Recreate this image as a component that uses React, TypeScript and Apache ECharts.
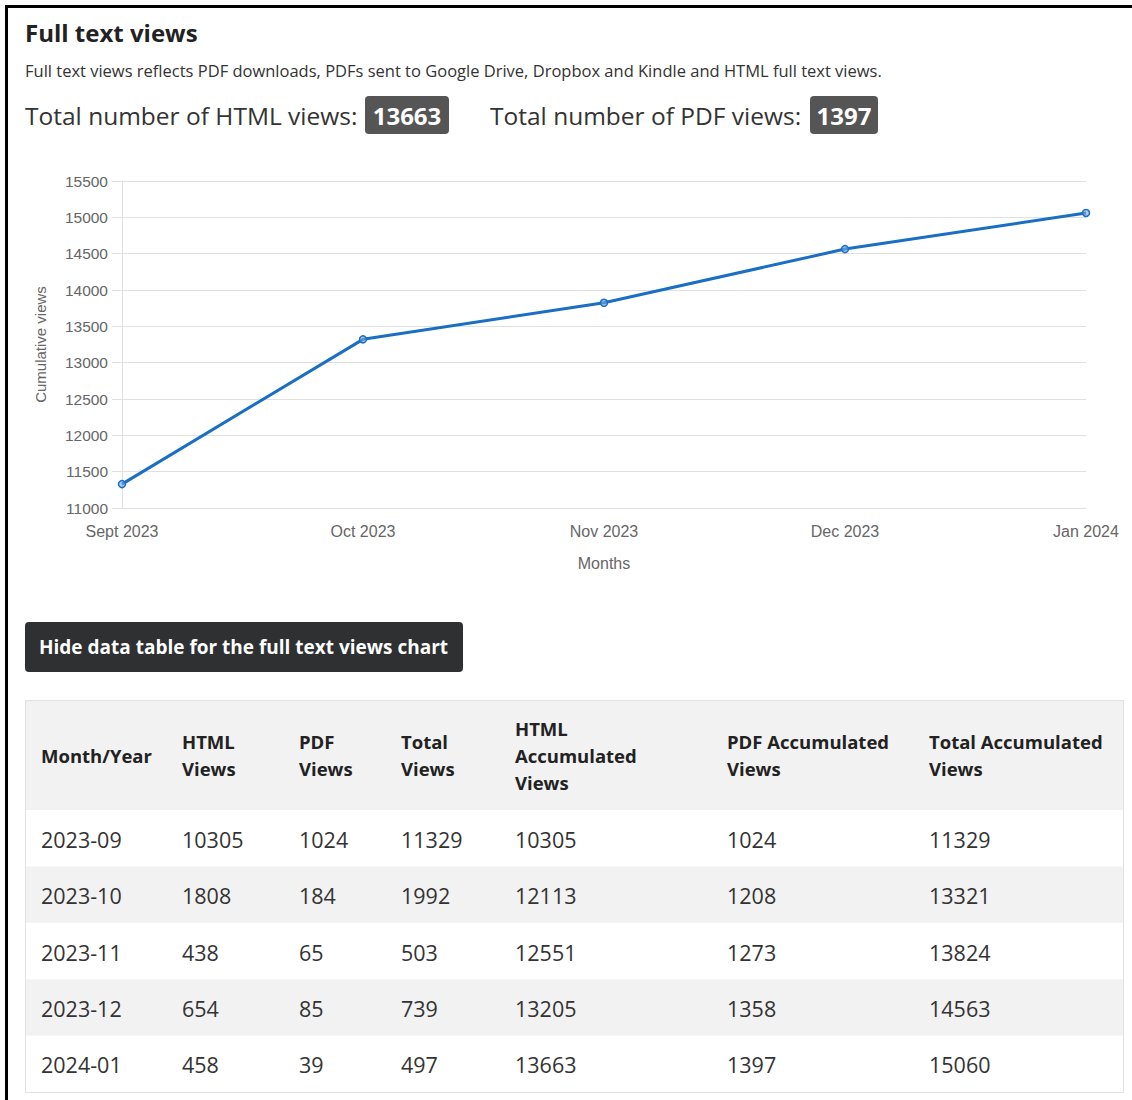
import React, { useEffect, useRef } from "react";
import * as echarts from "echarts";

const chartMonths = ["Sept 2023", "Oct 2023", "Nov 2023", "Dec 2023", "Jan 2024"];
const tableMonths = ["2023-09", "2023-10", "2023-11", "2023-12", "2024-01"];
const htmlViews = [10305, 1808, 438, 654, 458];
const pdfViews = [1024, 184, 65, 85, 39];
const totalViews = [11329, 1992, 503, 739, 497];
const htmlAccumulated = [10305, 12113, 12551, 13205, 13663];
const pdfAccumulated = [1024, 1208, 1273, 1358, 1397];
const totalAccumulated = [11329, 13321, 13824, 14563, 15060];
const totalHtml = 13663;
const totalPdf = 1397;
const tableHeaders = [
  "Month/Year",
  "HTML\nViews",
  "PDF\nViews",
  "Total\nViews",
  "HTML\nAccumulated\nViews",
  "PDF Accumulated\nViews",
  "Total Accumulated\nViews",
];

const PAGE_FONT = "'Open Sans', 'Noto Sans', sans-serif";
const CHART_FONT = "'Liberation Sans', Arial, sans-serif";

export default function App() {
  const ref = useRef<HTMLDivElement>(null);

  useEffect(() => {
    if (!ref.current) return;
    const chart = echarts.init(ref.current, undefined, { renderer: "svg" });

    const colX = [41, 182, 299, 401, 515, 727, 929];
    const rowTop = 810;
    const rowH = 56.4;
    const tableRows = tableMonths.map((m, i) => [
      m,
      htmlViews[i],
      pdfViews[i],
      totalViews[i],
      htmlAccumulated[i],
      pdfAccumulated[i],
      totalAccumulated[i],
    ]);

    const graphics: any[] = [];
    // page frame
    graphics.push({
      type: "line",
      shape: { x1: 5, y1: 6.5, x2: 1132, y2: 6.5 },
      style: { stroke: "#000", lineWidth: 3 },
    });
    graphics.push({
      type: "line",
      shape: { x1: 6.5, y1: 5, x2: 6.5, y2: 1100 },
      style: { stroke: "#000", lineWidth: 3 },
    });
    // title
    graphics.push({
      type: "text",
      x: 25,
      y: 32,
      style: {
        text: "Full text views",
        font: `bold 24px ${PAGE_FONT}`,
        fill: "#222",
        textVerticalAlign: "middle",
      },
    });
    graphics.push({
      type: "text",
      x: 25,
      y: 70,
      style: {
        text: "Full text views reflects PDF downloads, PDFs sent to Google Drive, Dropbox and Kindle and HTML full text views.",
        font: `16.5px ${PAGE_FONT}`,
        fill: "#333",
        textVerticalAlign: "middle",
      },
    });
    // totals
    graphics.push({
      type: "text",
      x: 25,
      y: 115,
      style: {
        text: "Total number of HTML views:",
        font: `24.5px ${PAGE_FONT}`,
        fill: "#333",
        textVerticalAlign: "middle",
      },
    });
    graphics.push({
      type: "rect",
      shape: { x: 365, y: 96, width: 84, height: 38, r: 4 },
      style: { fill: "#555" },
    });
    graphics.push({
      type: "text",
      x: 407,
      y: 115,
      style: {
        text: String(totalHtml),
        font: `bold 24px ${PAGE_FONT}`,
        fill: "#fff",
        textAlign: "center",
        textVerticalAlign: "middle",
      },
    });
    graphics.push({
      type: "text",
      x: 490,
      y: 115,
      style: {
        text: "Total number of PDF views:",
        font: `24.5px ${PAGE_FONT}`,
        fill: "#333",
        textVerticalAlign: "middle",
      },
    });
    graphics.push({
      type: "rect",
      shape: { x: 810, y: 96, width: 68, height: 38, r: 4 },
      style: { fill: "#555" },
    });
    graphics.push({
      type: "text",
      x: 844,
      y: 115,
      style: {
        text: String(totalPdf),
        font: `bold 24px ${PAGE_FONT}`,
        fill: "#fff",
        textAlign: "center",
        textVerticalAlign: "middle",
      },
    });
    // button
    graphics.push({
      type: "rect",
      shape: { x: 25, y: 622, width: 438, height: 50, r: 4 },
      style: { fill: "#2e3032" },
    });
    graphics.push({
      type: "text",
      x: 39,
      y: 647,
      style: {
        text: "Hide data table for the full text views chart",
        font: `bold 19px ${PAGE_FONT}`,
        fill: "#fff",
        textVerticalAlign: "middle",
      },
    });
    // table
    graphics.push({
      type: "rect",
      shape: { x: 25, y: 700, width: 1099, height: 110 },
      style: { fill: "#f2f2f2" },
    });
    tableRows.forEach((_, i) => {
      if (i % 2 === 1) {
        graphics.push({
          type: "rect",
          shape: { x: 25, y: rowTop + i * rowH, width: 1099, height: rowH },
          style: { fill: "#f2f2f2" },
        });
      }
    });
    graphics.push({
      type: "rect",
      shape: { x: 25.5, y: 700.5, width: 1098, height: 392 },
      style: { fill: "none", stroke: "#e2e2e2", lineWidth: 1 },
    });
    tableHeaders.forEach((h, c) => {
      graphics.push({
        type: "text",
        x: colX[c],
        y: 755,
        style: {
          text: h,
          font: `bold 18.5px ${PAGE_FONT}`,
          lineHeight: 27,
          fill: "#222",
          textVerticalAlign: "middle",
        },
      });
    });
    tableRows.forEach((row, r) => {
      row.forEach((v, c) => {
        graphics.push({
          type: "text",
          x: colX[c],
          y: rowTop + r * rowH + rowH / 2 + 1,
          style: {
            text: String(v),
            font: `21.5px ${PAGE_FONT}`,
            fill: "#333",
            textVerticalAlign: "middle",
          },
        });
      });
    });

    chart.setOption({
      animation: false,
      backgroundColor: "#fff",
      grid: { left: 122, right: 46, top: 181, bottom: 592, containLabel: false },
      xAxis: {
        type: "category",
        data: chartMonths,
        boundaryGap: false,
        name: "Months",
        nameLocation: "middle",
        nameGap: 47,
        nameTextStyle: { color: "#666", fontSize: 16, fontFamily: CHART_FONT },
        axisLine: { show: false },
        axisTick: { show: false },
        axisLabel: { color: "#666", fontSize: 16, fontFamily: CHART_FONT, margin: 15 },
        splitLine: { show: false },
      },
      yAxis: {
        type: "value",
        min: 11000,
        max: 15500,
        interval: 500,
        name: "Cumulative views",
        nameLocation: "middle",
        nameGap: 74,
        nameRotate: 90,
        nameTextStyle: { color: "#666", fontSize: 15, fontFamily: CHART_FONT },
        axisLine: { show: true, lineStyle: { color: "#e0e0e0" } },
        axisTick: { show: true, length: 10, lineStyle: { color: "#e0e0e0" } },
        axisLabel: {
          color: "#666",
          fontSize: 15.5,
          fontFamily: CHART_FONT,
          margin: 14,
          formatter: (v: number) => String(v),
        },
        splitLine: { show: true, lineStyle: { color: "#e0e0e0" } },
      },
      series: [
        {
          type: "line",
          data: totalAccumulated,
          symbol: "circle",
          symbolSize: 7,
          lineStyle: { color: "#1a6fc4", width: 3 },
          itemStyle: { color: "rgba(120,170,220,0.6)", borderColor: "#1a6fc4", borderWidth: 1.5 },
        },
      ],
      graphic: graphics,
    });

    return () => chart.dispose();
  }, []);

  return (
    <div
      ref={ref}
      style={{ position: "fixed", left: 0, top: 0, width: 1132, height: 1100, background: "#fff" }}
    />
  );
}
